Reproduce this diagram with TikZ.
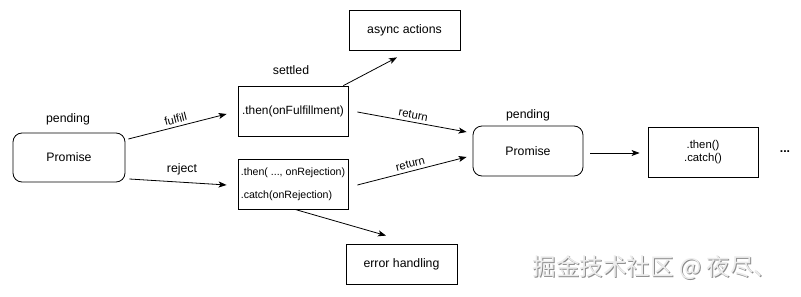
\documentclass[tikz,border=0pt]{standalone}
\usepackage{fontspec}
\setmainfont{Liberation Sans}
\newfontfamily\cjk{Noto Sans CJK SC}
\usetikzlibrary{arrows.meta,calc}
\begin{document}
\begin{tikzpicture}[x=1pt,y=-1pt,
  box/.style={draw,line width=0.8pt,inner sep=0pt,align=center,font=\fontsize{12.3}{14}\selectfont},
  rbox/.style={box,rounded corners=9pt},
  arr/.style={draw,line width=0.8pt,-{Stealth[length=8pt,width=6pt,inset=2pt]}},
  lbl/.style={font=\fontsize{12.3}{14}\selectfont,inner sep=0pt},
  slbl/.style={font=\fontsize{11.3}{13}\selectfont,inner sep=0pt}]
\useasboundingbox (0,0) rectangle (801,297);
\fill[white] (0,0) rectangle (801,297);
% nodes
\node[rbox,minimum width=112pt,minimum height=49pt] (P1) at (69,157.5) {Promise};
\node[box,minimum width=110pt,minimum height=50pt,font=\fontsize{11.9}{14}\selectfont] (T1) at (293,111) {.then(onFulfillment)};
\node[box,minimum width=110pt,minimum height=50pt,align=left,font=\fontsize{10.6}{23}\selectfont] (R1) at (293,184) {.then( ..., onRejection)\\.catch(onRejection)};
\node[box,minimum width=111pt,minimum height=40pt] (A) at (404.5,30) {async actions};
\node[box,minimum width=111pt,minimum height=40pt] (E) at (401.5,264) {error handling};
\node[rbox,minimum width=110pt,minimum height=50pt] (P2) at (528,151) {Promise};
\node[box,minimum width=110pt,minimum height=50pt,font=\fontsize{11.3}{13}\selectfont] (C) at (703,152) {.then()\\.catch()};
% labels
\node[lbl] (pend1) at (68,119) {pending};
\node[lbl] (settled) at (291,70) {settled};
\node[lbl] (pend2) at (528,115) {pending};
\node[lbl,font=\bfseries\fontsize{12.3}{14}\selectfont] (dots) at (785,152) {...};
% connectors
\coordinate (f1) at ($(P1.east)+(3,-18.5)$);
\coordinate (f2) at ($(T1.west)+(-11,3)$);
\draw[arr] (f1) -- node[slbl,sloped,above=3pt] (fl) {fulfill} (f2);
\coordinate (r1) at ($(P1.east)+(4,21.5)$);
\coordinate (r2) at ($(R1.west)+(-11,1)$);
\draw[arr] (r1) -- (r2);
\node[lbl] (rl) at (182,169) {reject};
\draw[arr] ($(T1.north east)+(-5,0)$) -- ($(A.south)+(-7.5,7)$);
\draw[arr] ($(R1.south)+(2,0)$) -- ($(E.north)+(-15.5,-8)$);
\coordinate (a1) at ($(T1.east)+(9,1)$);
\coordinate (a2) at ($(P2.west)+(-6,-19)$);
\draw[arr] (a1) -- node[slbl,sloped,above=3pt] (ret1) {return} (a2);
\coordinate (b1) at ($(R1.east)+(9,1)$);
\coordinate (b2) at ($(P2.west)+(-6,6)$);
\draw[arr] (b1) -- node[slbl,sloped,above=3pt] (ret2) {return} (b2);
\draw[arr] ($(P2.east)+(7,2)$) -- ($(C.west)+(-8,1)$);
% watermark
\node[inner sep=0pt,text=gray!90,font=\cjk\fontsize{23.5}{26}\selectfont] (wms) at (656,269) {掘金技术社区 @ 夜尽、};
\node[inner sep=0pt,text=gray!15,font=\cjk\fontsize{23.5}{26}\selectfont] (wm) at (655,268) {掘金技术社区 @ 夜尽、};
\end{tikzpicture}
\end{document}
